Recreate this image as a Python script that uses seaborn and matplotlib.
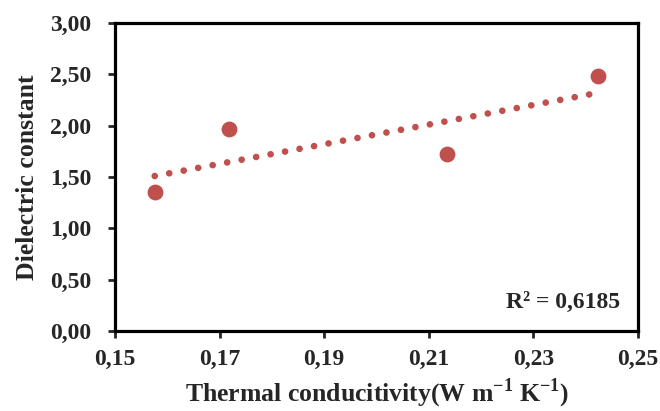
"""Dielektrizitätskonstante gegen Wärmeleitfähigkeit mit linearem Trend."""

import matplotlib
matplotlib.use('Agg')
import matplotlib.pyplot as plt
import pandas as pd
import seaborn as sns


thermal_conductivity = [0.1576, 0.1718, 0.2135, 0.2424]
dielectric_constant = [1.35, 1.97, 1.72, 2.48]

x_ticks = [0.15, 0.17, 0.19, 0.21, 0.23, 0.25]
x_tick_labels = ['0,15', '0,17', '0,19', '0,21', '0,23', '0,25']
y_ticks = [0.0, 0.5, 1.0, 1.5, 2.0, 2.5, 3.0]
y_tick_labels = ['0,00', '0,50', '1,00', '1,50', '2,00', '2,50', '3,00']
r2_label = 'R² = 0,6185'

RED = '#C0504D'


def main():
    sns.set_style('white')
    plt.rcParams['font.family'] = ['Liberation Serif', 'DejaVu Serif']
    plt.rcParams['font.weight'] = 'bold'
    plt.rcParams['mathtext.fontset'] = 'custom'
    plt.rcParams['mathtext.rm'] = 'Liberation Serif:bold'
    plt.rcParams['mathtext.bf'] = 'Liberation Serif:bold'

    df = pd.DataFrame({'k': thermal_conductivity, 'eps': dielectric_constant})

    fig = plt.figure(figsize=(6.6, 4.11), dpi=100)
    ax = fig.add_axes([0.1742, 0.1946, 0.7925, 0.7494])

    sns.regplot(
        data=df, x='k', y='eps', ax=ax, ci=None, truncate=True,
        color=RED,
        scatter_kws=dict(s=130, alpha=1, linewidths=0, zorder=3),
        line_kws=dict(linestyle=(0, (0.01, 2.2)), linewidth=4.8,
                      dash_capstyle='round', zorder=2),
    )

    ax.set_xlim(0.15, 0.25)
    ax.set_ylim(0, 3)
    ax.set_xticks(x_ticks)
    ax.set_xticklabels(x_tick_labels)
    ax.set_yticks(y_ticks)
    ax.set_yticklabels(y_tick_labels)
    ax.tick_params(axis='both', labelsize=17, length=5, width=2,
                   direction='out', left=True, bottom=True)
    ax.tick_params(axis='y', pad=12)
    ax.tick_params(axis='x', pad=8)
    for lab in ax.get_xticklabels() + ax.get_yticklabels():
        lab.set_fontweight('bold')

    for spine in ax.spines.values():
        spine.set_visible(True)
        spine.set_color('black')
        spine.set_linewidth(2.3)

    ax.set_xlabel(r'Thermal conducitivity(W m$^{\mathrm{-1}}$ K$^{\mathrm{-1}}$)',
                  fontsize=18.5, fontweight='bold', labelpad=5)
    ax.set_ylabel('Dielectric constant', fontsize=18.5, fontweight='bold', labelpad=8)

    ax.text(0.2465, 0.28, r2_label, ha='right', va='center',
            fontsize=17, fontweight='bold')

    fig.savefig('out.png', dpi=100)
    plt.close(fig)


if __name__ == '__main__':
    main()
